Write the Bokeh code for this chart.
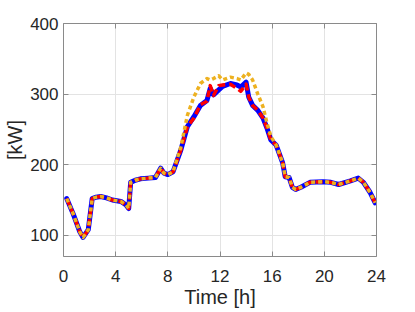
from bokeh.plotting import figure
from bokeh.models import Range1d, LinearAxis, FixedTicker
from bokeh.embed import file_html
from bokeh.resources import INLINE

hours = [0.25, 0.75, 1.25, 1.5, 1.9, 2.2, 2.5, 2.85, 3.3, 3.75, 4.4, 4.8, 5.0, 5.15, 5.5, 5.9, 6.5, 7.05, 7.45, 7.7, 8.0, 8.4,
         9.0, 9.5, 10.0, 10.5, 11.0, 11.25, 11.5, 11.9, 12.2, 12.8, 13.3, 13.6, 14.0, 14.2, 14.5, 14.9, 15.3, 15.6, 15.9,
         16.3, 16.8, 17.0, 17.3, 17.55, 17.8, 18.2, 18.9, 19.9, 20.5, 21.1, 22.0, 22.6, 23.0, 23.5, 23.9]
blue = [152, 130, 105, 97, 108, 152, 154, 155, 153, 150, 148, 143, 138, 175, 178, 180, 181, 182, 195, 188, 186, 190,
        221, 254, 268, 284, 291, 308, 299, 306, 311, 315, 313, 310, 317, 296, 284, 277, 266, 252, 235,
        228, 203, 183, 182, 168, 165, 168, 175, 176, 175, 172, 177, 181, 175, 161, 146]
red = [152, 130, 105, 97, 108, 152, 154, 155, 153, 150, 148, 143, 138, 175, 178, 180, 181, 182, 195, 188, 186, 190,
       221, 254, 266, 285, 290, 312, 298, 312, 313, 314, 308, 304, 314, 296, 284, 277, 266, 252, 235,
       228, 203, 183, 182, 168, 165, 168, 175, 176, 175, 172, 177, 181, 175, 161, 146]
orange = [152, 130, 105, 97, 108, 152, 154, 155, 153, 150, 148, 143, 138, 175, 178, 180, 181, 182, 195, 188, 186, 190,
          225, 270, 296, 315, 322, 320, 322, 326, 320, 324, 322, 320, 330, 328, 320, 300, 282, 259, 240,
          228, 203, 183, 182, 168, 165, 168, 175, 176, 175, 172, 177, 181, 175, 161, 146]

x_ticks = [0, 4, 8, 12, 16, 20, 24]
y_ticks = [100, 200, 300, 400]

FONT = "Liberation Sans"
AX = "#8a8a8a"
TXT = "#262626"

p = figure(width=407, height=310, output_backend="svg", toolbar_location=None,
           x_range=Range1d(0, 24), y_range=Range1d(70, 400),
           min_border_left=63, min_border_right=31, min_border_top=23, min_border_bottom=53)
p.outline_line_color = None
p.background_fill_color = "white"

p.line(hours, blue, line_color="#0000ff", line_width=5, line_join="round", line_cap="round")
p.line(hours, red, line_color="#ff0000", line_width=3.5, line_dash="7 4", line_join="round")
p.line(hours, orange, line_color="#EDB120", line_width=3.5, line_dash="4 3", line_join="round")

for ax in (p.xaxis[0], p.yaxis[0]):
    ax.axis_line_color = AX
    ax.major_tick_line_color = AX
    ax.major_tick_in = 5
    ax.major_tick_out = 0
    ax.minor_tick_line_color = None
    ax.major_label_text_font = FONT
    ax.major_label_text_font_size = "17px"
    ax.major_label_text_color = TXT
    ax.axis_label_text_font = FONT
    ax.axis_label_text_font_size = "20px"
    ax.axis_label_text_font_style = "normal"
    ax.axis_label_text_color = TXT

p.xaxis.ticker = FixedTicker(ticks=x_ticks)
p.yaxis.ticker = FixedTicker(ticks=y_ticks)
p.xaxis.axis_label = "Time [h]"
p.yaxis.axis_label = "[kW]"
p.xaxis.major_label_standoff = 13
p.xaxis.axis_label_standoff = 1
p.yaxis.major_label_standoff = 5
p.yaxis.axis_label_standoff = 1

top = LinearAxis(ticker=FixedTicker(ticks=x_ticks), major_label_overrides={t: "" for t in x_ticks},
                 axis_line_color=AX, major_tick_line_color=AX, major_tick_in=5, major_tick_out=0,
                 minor_tick_line_color=None, major_label_standoff=0)
right = LinearAxis(ticker=FixedTicker(ticks=y_ticks), major_label_overrides={t: "" for t in y_ticks},
                   axis_line_color=AX, major_tick_line_color=AX, major_tick_in=5, major_tick_out=0,
                   minor_tick_line_color=None, major_label_standoff=0)
p.add_layout(top, "above")
p.add_layout(right, "right")

p.xgrid.ticker = FixedTicker(ticks=x_ticks)
p.ygrid.ticker = FixedTicker(ticks=y_ticks)
p.grid.grid_line_color = "#e3e3e3"
p.grid.grid_line_width = 1

open("out.html", "w").write(file_html(p, INLINE))
